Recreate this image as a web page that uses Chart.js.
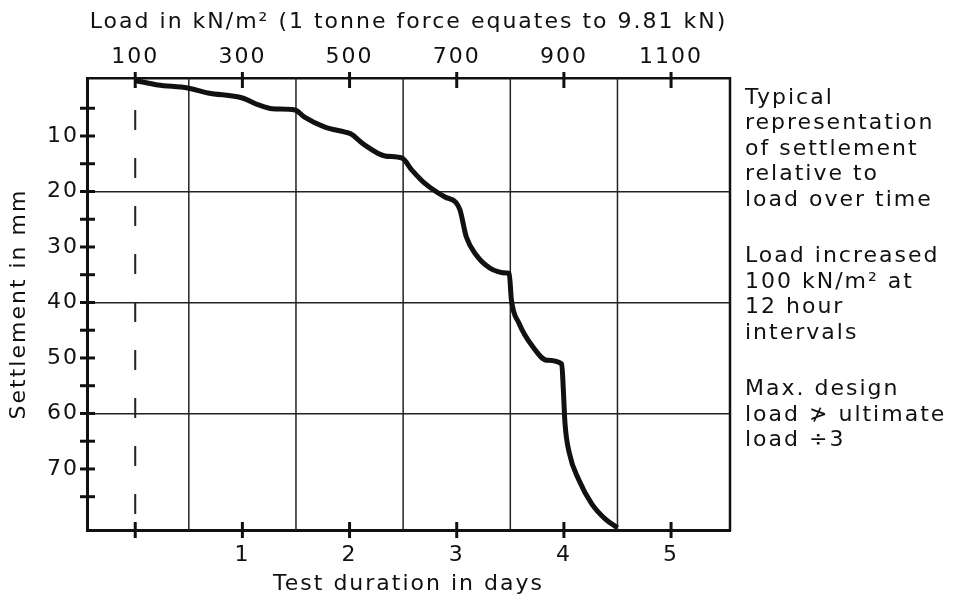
<!DOCTYPE html>
<html>
<head>
<meta charset="utf-8">
<script src="https://cdn.jsdelivr.net/npm/chart.js@4.4.0/dist/chart.umd.min.js"></script>
<style>
  html, body { margin: 0; padding: 0; background: #fff; }
  #caja { width: 954px; height: 601px; }
</style>
</head>
<body>
<div id="caja"><canvas id="grafico"></canvas></div>
<script>
// Values
var dias = [0, 0.21, 0.49, 0.68, 1.0, 1.15, 1.28, 1.49, 1.58, 1.77, 1.96, 2.01,
            2.14, 2.33, 2.49, 2.58, 2.7, 2.89, 2.99, 3.03, 3.09, 3.18, 3.31, 3.47, 3.49,
            3.51, 3.58, 3.71, 3.84, 3.98, 3.995, 4.01, 4.05, 4.14, 4.26, 4.39, 4.5];
var asiento = [0, 0.8, 1.35, 2.25, 3.15, 4.4, 5.1, 5.3, 6.6, 8.4, 9.3, 9.6,
               11.6, 13.6, 14.0, 16.1, 18.5, 21.0, 21.9, 23.3, 28.2, 31.4, 33.8, 34.7, 34.8,
               39.5, 43.7, 48.0, 50.4, 51.1, 55.8, 61.7, 67.1, 72.0, 76.3, 79.1, 80.6];

var ticksDias = [0, 1, 2, 3, 4, 5];
var ticksCarga = [100, 300, 500, 700, 900, 1100];
var ticksAsiento = [5, 10, 15, 20, 25, 30, 35, 40, 45, 50, 55, 60, 65, 70, 75];
var lineasMedioDia = [0.5, 1.5, 2.5, 3.5, 4.5];
var lineasAsiento = [20, 40, 60];

var notas = [
  ['Typical', 'representation', 'of settlement', 'relative to', 'load over time'],
  ['Load increased', '100 kN/m\u00B2 at', '12 hour', 'intervals'],
  ['Max. design', 'load \u226F ultimate', 'load \u00F73']
];

var fuente = "'DejaVu Sans', sans-serif";
var tinta = '#111';

// Grid lines, crossing tick marks, frame and side notes
var decoracion = {
  id: 'decoracion',
  beforeDraw: function (chart) {
    chart.ctx.letterSpacing = '2px';
  },
  beforeDatasetsDraw: function (chart) {
    var ctx = chart.ctx, a = chart.chartArea, x = chart.scales.x;
    ctx.save();
    ctx.strokeStyle = '#222';
    ctx.lineWidth = 1.5;
    lineasMedioDia.forEach(function (d) {
      var px = x.getPixelForValue(d);
      ctx.beginPath(); ctx.moveTo(px, a.top); ctx.lineTo(px, a.bottom); ctx.stroke();
    });
    // dashed line at day 0
    var p0 = x.getPixelForValue(0);
    ctx.lineWidth = 2;
    ctx.setLineDash([20, 28]);
    ctx.beginPath(); ctx.moveTo(p0, a.top + 32); ctx.lineTo(p0, a.bottom); ctx.stroke();
    ctx.restore();
  },
  afterDraw: function (chart) {
    var ctx = chart.ctx, a = chart.chartArea, s = chart.scales;
    ctx.save();
    ctx.strokeStyle = tinta;
    ctx.lineWidth = 2.5;
    ctx.beginPath(); ctx.moveTo(a.right, a.top - 1); ctx.lineTo(a.right, a.bottom + 1); ctx.stroke();

    ctx.lineWidth = 3;
    ticksAsiento.forEach(function (v) {
      var py = s.y.getPixelForValue(v);
      ctx.beginPath(); ctx.moveTo(a.left - 7, py); ctx.lineTo(a.left + 8, py); ctx.stroke();
    });
    ticksDias.forEach(function (v) {
      var px = s.x.getPixelForValue(v);
      ctx.beginPath(); ctx.moveTo(px, a.bottom - 8); ctx.lineTo(px, a.bottom + 8); ctx.stroke();
    });
    ticksCarga.forEach(function (v) {
      var px = s.x2.getPixelForValue(v);
      ctx.beginPath(); ctx.moveTo(px, a.top - 6); ctx.lineTo(px, a.top + 10); ctx.stroke();
    });

    ctx.fillStyle = tinta;
    ctx.font = '22px ' + fuente;
    ctx.textAlign = 'left';
    ctx.textBaseline = 'middle';
    var yy = a.top + 20;
    notas.forEach(function (bloque) {
      bloque.forEach(function (linea) {
        ctx.fillText(linea, a.right + 15, yy);
        yy += 25.5;
      });
      yy += 31;
    });
    ctx.restore();
  }
};

var puntos = dias.map(function (d, i) { return { x: d, y: asiento[i] }; });

new Chart(document.getElementById('grafico'), {
  type: 'line',
  data: {
    datasets: [{
      data: puntos,
      borderColor: tinta,
      borderWidth: 5,
      pointRadius: 0,
      fill: false,
      cubicInterpolationMode: 'monotone',
      xAxisID: 'x',
      yAxisID: 'y'
    }]
  },
  options: {
    responsive: true,
    maintainAspectRatio: false,
    animation: false,
    layout: { padding: { left: 0, top: 0, bottom: 0, right: 224 } },
    plugins: { legend: { display: false }, tooltip: { enabled: false } },
    scales: {
      x: {
        type: 'linear', position: 'bottom', min: -0.45, max: 5.55,
        afterBuildTicks: function (axis) { axis.ticks = ticksDias.map(function (v) { return { value: v }; }); },
        afterFit: function (axis) { axis.height = 71; },
        grid: { display: false, drawTicks: false },
        border: { display: true, color: tinta, width: 3 },
        ticks: {
          padding: 12, color: tinta, font: { family: fuente, size: 22 },
          maxRotation: 0,
          callback: function (v) { return v === 0 ? '' : String(v); }
        },
        title: {
          display: true, text: 'Test duration in days', color: tinta,
          font: { family: fuente, size: 22 }, padding: { top: 0, bottom: 4 }
        }
      },
      x2: {
        type: 'linear', axis: 'x', position: 'top', min: 10, max: 1210,
        afterBuildTicks: function (axis) { axis.ticks = ticksCarga.map(function (v) { return { value: v }; }); },
        afterFit: function (axis) { axis.height = 78; },
        grid: { display: false, drawTicks: false },
        border: { display: true, color: tinta, width: 2.5 },
        ticks: {
          padding: 8, color: tinta, font: { family: fuente, size: 22 }, maxRotation: 0,
          callback: function (v) { return String(v); }
        },
        title: {
          display: true, text: 'Load in kN/m\u00B2 (1 tonne force equates to 9.81 kN)', color: tinta,
          font: { family: fuente, size: 22 }, padding: { top: 9, bottom: 0 }
        }
      },
      y: {
        type: 'linear', position: 'left', reverse: true, min: -0.45, max: 81,
        afterBuildTicks: function (axis) { axis.ticks = ticksAsiento.map(function (v) { return { value: v }; }); },
        afterFit: function (axis) { axis.width = 87; },
        grid: {
          drawTicks: false,
          lineWidth: 1.5,
          color: function (c) {
            return c.tick && lineasAsiento.indexOf(c.tick.value) >= 0 ? '#222' : 'rgba(0,0,0,0)';
          }
        },
        border: { display: true, color: tinta, width: 3 },
        ticks: {
          padding: 8, color: tinta, font: { family: fuente, size: 22 },
          callback: function (v) { return v % 10 === 0 ? String(v) : ''; }
        },
        title: {
          display: true, text: 'Settlement in mm', color: tinta,
          font: { family: fuente, size: 22 }, padding: { top: 6, bottom: 0 }
        }
      }
    }
  },
  plugins: [decoracion]
});
</script>
</body>
</html>
